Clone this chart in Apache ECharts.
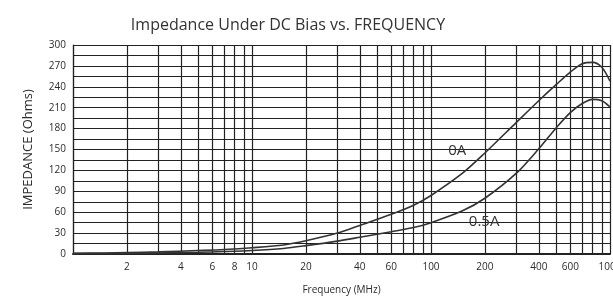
<!DOCTYPE html>
<html lang="en">
<head>
    <meta charset="utf-8">
    <title>Impedance Under DC Bias</title>
    <script src="https://cdn.jsdelivr.net/npm/echarts@6.0.0/dist/echarts.min.js"></script>
    <style>
        html, body { margin: 0; padding: 0; background: #fff; }
        #chart { width: 613px; height: 300px; }
    </style>
</head>
<body>
    <div id="chart"></div>
    <script>
        // Data
        const freqs = [1, 1.5, 2, 3, 5, 7, 10, 15, 20, 30, 40, 60, 80, 100, 150, 200, 300, 400, 500, 600, 700, 800, 900, 1000];
        const imp0A = [1, 1.5, 2, 3, 5, 6.5, 9, 13, 19, 30, 41, 57, 70, 84, 116, 145, 189, 220, 243, 261, 273, 275, 268, 248];
        const imp05A = [0.5, 0.8, 1, 1.5, 2.5, 3.5, 5, 8, 12, 18.5, 24, 32, 38, 45, 62, 80, 116, 151, 181, 203, 216, 222, 220, 211];

        // Axis ticks
        const xGrid = [1, 2, 3, 4, 5, 6, 7, 8, 9, 10, 20, 30, 40, 50, 60, 70, 80, 90, 100, 200, 300, 400, 500, 600, 700, 800, 900, 1000];
        const xLabels = [2, 4, 6, 8, 10, 20, 40, 60, 100, 200, 400, 600, 1000];
        const yLabels = [0, 30, 60, 90, 120, 150, 180, 210, 240, 270, 300];

        // Curve annotations [freq, impedance]
        const tagNames = ['0A', '0.5A'];
        const tagPos = [[140, 148], [198, 46]];

        const font = '"Open Sans", "Noto Sans", sans-serif';
        const ink = '#2b2b2b';

        const chart = echarts.init(document.getElementById('chart'));

        chart.setOption({
            animation: false,
            title: {
                text: 'Impedance Under DC Bias vs. FREQUENCY',
                left: 283,
                top: 12,
                textAlign: 'center',
                textStyle: { fontFamily: font, fontSize: 16, fontWeight: 'normal', color: '#333' }
            },
            grid: { left: 73, right: 3, top: 45, bottom: 46, containLabel: false, outerBoundsMode: 'none' },
            xAxis: {
                type: 'log',
                logBase: 10,
                min: 1,
                max: 1000,
                name: 'Frequency (MHz)',
                nameLocation: 'middle',
                nameGap: 31,
                nameTextStyle: { fontFamily: font, fontSize: 10, color: ink },
                axisLine: { show: true, lineStyle: { color: '#222', width: 2 } },
                axisTick: { show: false, customValues: xGrid },
                axisLabel: {
                    customValues: xLabels, fontFamily: font, fontSize: 10, color: ink, margin: 8,
                    formatter: v => String(v)
                },
                splitLine: { show: true, lineStyle: { color: '#222', width: 1.2 } },
                minorSplitLine: { show: false }
            },
            yAxis: {
                type: 'value',
                min: 0,
                max: 300,
                interval: 15,
                name: 'IMPEDANCE (Ohms)',
                nameLocation: 'middle',
                nameGap: 38,
                nameTextStyle: { fontFamily: font, fontSize: 13, color: ink },
                axisLine: { show: true, lineStyle: { color: '#222', width: 1.2 } },
                axisTick: { show: false },
                axisLabel: {
                    fontFamily: font, fontSize: 10, color: ink, margin: 7,
                    formatter: v => (yLabels.includes(v) ? String(v) : '')
                },
                splitLine: { show: true, lineStyle: { color: '#222', width: 1.2 } }
            },
            series: [
                {
                    name: '0A',
                    type: 'line',
                    smooth: 0.3,
                    showSymbol: false,
                    lineStyle: { color: '#333', width: 1.6 },
                    data: freqs.map((f, i) => [f, imp0A[i]])
                },
                {
                    name: '0.5A',
                    type: 'line',
                    smooth: 0.3,
                    showSymbol: false,
                    lineStyle: { color: '#333', width: 1.6 },
                    data: freqs.map((f, i) => [f, imp05A[i]])
                }
            ]
        });

        // Curve name tags placed through the axis scales
        chart.setOption({
            graphic: tagNames.map((t, i) => {
                const p = chart.convertToPixel({ gridIndex: 0 }, tagPos[i]);
                return {
                    type: 'text',
                    x: p[0],
                    y: p[1],
                    z: 10,
                    style: {
                        text: t,
                        fontFamily: font,
                        fontSize: 15,
                        fill: '#333',
                        align: 'center',
                        verticalAlign: 'middle'
                    }
                };
            })
        });

        window.addEventListener('resize', () => chart.resize());
    </script>
</body>
</html>
